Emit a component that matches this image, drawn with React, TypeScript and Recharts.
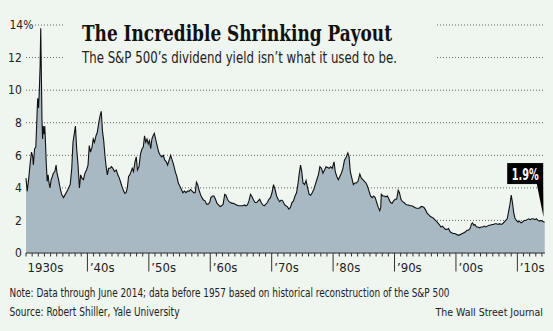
import { AreaChart, Area, XAxis, YAxis, CartesianGrid, ReferenceDot } from 'recharts'

const BG = '#eff5ef'
const NARROW = "'Liberation Sans Narrow', 'DejaVu Sans Condensed', 'Arial Narrow', sans-serif"
const SLAB = "'DejaVu Serif Condensed', 'DejaVu Serif', serif"

// one line per calendar year, same shape in both arrays
const years = [
  1930, 1930.2, 1930.45, 1930.7, 1930.9,
  1931.1, 1931.2, 1931.4, 1931.6, 1931.75, 1931.9,
  1932.05, 1932.15, 1932.3, 1932.4, 1932.5, 1932.6, 1932.7, 1932.8, 1932.95,
  1933.05, 1933.15, 1933.3, 1933.45, 1933.6, 1933.75, 1933.9,
  1934.1, 1934.3, 1934.45, 1934.7, 1934.9,
  1935.05, 1935.3, 1935.55, 1935.8,
  1936.1, 1936.4, 1936.7, 1936.95,
  1937.2, 1937.45, 1937.65, 1937.85,
  1938.05, 1938.25, 1938.45, 1938.7, 1938.9,
  1939.1, 1939.35, 1939.6, 1939.85,
  1940.1, 1940.3, 1940.5, 1940.75, 1940.95,
  1941.15, 1941.4, 1941.6, 1941.85,
  1942.05, 1942.25, 1942.45, 1942.65, 1942.85,
  1943.05, 1943.25, 1943.45, 1943.7, 1943.9,
  1944.15, 1944.4, 1944.7, 1944.95,
  1945.2, 1945.45, 1945.7, 1945.9,
  1946.1, 1946.3, 1946.5, 1946.7, 1946.9,
  1947.1, 1947.3, 1947.5, 1947.75, 1947.95,
  1948.15, 1948.4, 1948.65, 1948.9,
  1949.1, 1949.3, 1949.5, 1949.7, 1949.9,
  1950.1, 1950.3, 1950.5, 1950.7, 1950.9,
  1951.1, 1951.35, 1951.6, 1951.85,
  1952.1, 1952.35, 1952.6, 1952.85,
  1953.05, 1953.3, 1953.55, 1953.8,
  1954.05, 1954.3, 1954.55, 1954.8,
  1955.05, 1955.3, 1955.55, 1955.8,
  1956.05, 1956.3, 1956.55, 1956.8,
  1957.05, 1957.3, 1957.55, 1957.75, 1957.95,
  1958.15, 1958.4, 1958.65, 1958.9,
  1959.15, 1959.4, 1959.65, 1959.9,
  1960.1, 1960.35, 1960.6, 1960.85,
  1961.1, 1961.35, 1961.6, 1961.85,
  1962.1, 1962.35, 1962.55, 1962.8,
  1963.05, 1963.3, 1963.55, 1963.8,
  1964.05, 1964.3, 1964.55, 1964.8,
  1965.05, 1965.3, 1965.55, 1965.8,
  1966.05, 1966.3, 1966.55, 1966.8,
  1967.05, 1967.3, 1967.55, 1967.8,
  1968.05, 1968.3, 1968.55, 1968.8,
  1969.05, 1969.3, 1969.55, 1969.8,
  1970.05, 1970.3, 1970.55, 1970.8,
  1971.05, 1971.3, 1971.55, 1971.8,
  1972.05, 1972.3, 1972.55, 1972.8,
  1973.05, 1973.3, 1973.55, 1973.8,
  1974.05, 1974.3, 1974.5, 1974.7, 1974.9,
  1975.1, 1975.35, 1975.6, 1975.85,
  1976.1, 1976.35, 1976.6, 1976.85,
  1977.1, 1977.35, 1977.6, 1977.85,
  1978.1, 1978.35, 1978.6, 1978.85,
  1979.1, 1979.35, 1979.6, 1979.85,
  1980.15, 1980.35, 1980.6, 1980.85,
  1981.1, 1981.35, 1981.6, 1981.85,
  1982.15, 1982.4, 1982.6, 1982.8,
  1983.05, 1983.3, 1983.55, 1983.8,
  1984.05, 1984.35, 1984.6, 1984.85,
  1985.1, 1985.35, 1985.6, 1985.85,
  1986.1, 1986.35, 1986.6, 1986.85,
  1987.1, 1987.35, 1987.6, 1987.75, 1987.85,
  1988.1, 1988.35, 1988.6, 1988.85,
  1989.1, 1989.35, 1989.6, 1989.85,
  1990.1, 1990.35, 1990.6, 1990.8,
  1991.05, 1991.3, 1991.55, 1991.8,
  1992.05, 1992.3, 1992.55, 1992.8,
  1993.05, 1993.3, 1993.55, 1993.8,
  1994.05, 1994.3, 1994.55, 1994.8,
  1995.05, 1995.3, 1995.55, 1995.8,
  1996.05, 1996.3, 1996.55, 1996.8,
  1997.05, 1997.3, 1997.55, 1997.8,
  1998.05, 1998.3, 1998.55, 1998.8,
  1999.05, 1999.3, 1999.55, 1999.8,
  2000.05, 2000.3, 2000.55, 2000.8,
  2001.05, 2001.3, 2001.55, 2001.8,
  2002.05, 2002.3, 2002.55, 2002.7, 2002.9,
  2003.1, 2003.35, 2003.6, 2003.85,
  2004.1, 2004.35, 2004.6, 2004.85,
  2005.1, 2005.35, 2005.6, 2005.85,
  2006.1, 2006.35, 2006.6, 2006.85,
  2007.1, 2007.35, 2007.6, 2007.85,
  2008.1, 2008.35, 2008.6, 2008.8,
  2009.0, 2009.2, 2009.4, 2009.6, 2009.85,
  2010.1, 2010.35, 2010.6, 2010.85,
  2011.1, 2011.35, 2011.6, 2011.85,
  2012.1, 2012.35, 2012.6, 2012.85,
  2013.1, 2013.35, 2013.6, 2013.85,
  2014.1, 2014.3, 2014.45,
]

const yields = [
  4.6, 3.8, 4.6, 5.6, 6.2,
  5.9, 5.4, 6.4, 6.5, 8.0, 9.5,
  8.9, 9.8, 11.5, 13.8, 11.0, 8.2, 7.0, 7.8, 7.3,
  7.8, 7.0, 5.5, 4.4, 4.8, 4.3, 4.0,
  4.5, 4.7, 4.9, 5.0, 5.4,
  4.9, 4.5, 4.0, 3.6,
  3.4, 3.6, 3.8, 4.0,
  4.2, 5.2, 6.8, 7.3,
  7.8, 6.4, 5.5, 4.0, 4.8,
  4.6, 4.5, 4.9, 5.1,
  5.4, 6.6, 6.2, 6.5, 7.0,
  6.8, 7.2, 7.4, 8.0,
  8.4, 8.7, 7.5, 6.9, 6.0,
  5.3, 4.8, 5.2, 5.2, 5.3,
  5.2, 5.0, 5.1, 4.8,
  4.6, 4.3, 4.0, 3.8,
  3.65, 3.7, 4.0, 4.7, 4.8,
  5.0, 5.2, 5.0, 5.6, 5.9,
  5.1, 5.3, 6.1, 6.4,
  6.5, 7.2, 6.8, 7.0, 6.7,
  6.9, 6.4, 7.0, 7.2, 7.35,
  7.0, 6.6, 6.2, 6.0,
  5.9, 6.0, 5.7, 5.6,
  5.4, 5.7, 6.0, 5.7,
  5.4, 5.0, 4.7, 4.3,
  4.1, 3.9, 3.7, 3.8,
  3.7, 3.8, 3.8, 3.9,
  3.8, 3.7, 3.7, 4.35, 4.2,
  3.9, 3.6, 3.4, 3.25,
  3.2, 3.0, 3.0, 3.1,
  3.4, 3.5, 3.5, 3.3,
  3.05, 2.95, 2.85, 2.9,
  3.0, 3.6, 3.55, 3.3,
  3.15, 3.1, 3.05, 3.05,
  3.0, 2.95, 2.9, 2.9,
  2.9, 2.9, 2.95, 2.9,
  2.95, 3.2, 3.6, 3.45,
  3.25, 3.1, 3.1, 3.2,
  3.3, 3.1, 2.95, 2.9,
  3.0, 3.1, 3.3, 3.4,
  3.7, 4.2, 3.9, 3.5,
  3.3, 3.15, 3.25, 3.2,
  3.0, 2.9, 2.85, 2.7,
  2.8, 3.1, 3.2, 3.5,
  3.7, 4.3, 4.9, 5.4, 5.0,
  4.3, 4.2, 4.45, 4.0,
  3.6, 3.55, 3.7, 3.9,
  4.2, 4.5, 4.8, 5.3,
  5.2, 4.9, 5.1, 5.3,
  5.25, 5.2, 5.3, 5.2,
  5.6, 5.0, 4.7, 4.5,
  4.7, 4.9, 5.2, 5.7,
  5.9, 6.15, 5.9, 5.0,
  4.6, 4.2, 4.3, 4.3,
  4.4, 4.85, 4.6, 4.5,
  4.4, 4.3, 4.1, 3.8,
  3.5, 3.4, 3.5, 3.4,
  3.1, 2.8, 2.6, 2.8, 3.6,
  3.5, 3.5, 3.45, 3.5,
  3.3, 3.1, 3.05, 3.2,
  3.3, 3.3, 3.85, 3.7,
  3.3, 3.15, 3.1, 3.0,
  2.95, 2.95, 2.9, 2.9,
  2.85, 2.8, 2.75, 2.75,
  2.75, 2.85, 2.85, 2.8,
  2.65, 2.45, 2.35, 2.25,
  2.2, 2.15, 2.05, 1.95,
  1.85, 1.75, 1.6, 1.65,
  1.55, 1.45, 1.45, 1.5,
  1.3, 1.25, 1.2, 1.2,
  1.15, 1.1, 1.1, 1.15,
  1.2, 1.25, 1.3, 1.4,
  1.4, 1.5, 1.8, 1.85, 1.7,
  1.75, 1.6, 1.6, 1.55,
  1.6, 1.6, 1.65, 1.6,
  1.65, 1.7, 1.7, 1.75,
  1.75, 1.8, 1.8, 1.75,
  1.8, 1.75, 1.8, 1.9,
  2.0, 2.1, 2.6, 3.0,
  3.55, 3.1, 2.5, 2.15, 2.0,
  1.9, 1.95, 1.85, 1.9,
  2.0, 2.0, 2.05, 2.1,
  2.05, 2.1, 2.1, 2.05,
  2.1, 2.0, 1.95, 2.0,
  1.95, 1.9, 1.9,
]

const data = years.map((year, i) => ({ year, value: yields[i] }))

const yTicks = [0, 2, 4, 6, 8, 10, 12, 14]
const decades = [1930, 1940, 1950, 1960, 1970, 1980, 1990, 2000, 2010]
const decadeLabels = ['1930s', '’40s', '’50s', '’60s', '’70s', '’80s', '’90s', '’00s', '’10s']
const yearTicks = Array.from({ length: 85 }, (_, i) => 1930 + i)
const calloutLabel = '1.9%'

function YTick({ y, payload }: any) {
  const v = payload.value
  if (v === 14) {
    return (
      <g>
        <rect x={9} y={y - 7} width={25} height={14} fill={BG} />
        <text x={9.5} y={y} dy={4.3} fontSize={12} fontFamily={NARROW} fill="#222">14%</text>
      </g>
    )
  }
  return (
    <text x={21.8} y={y} dy={4.3} textAnchor="end" fontSize={12} fontFamily={NARROW} fill="#222">
      {v}
    </text>
  )
}

function XTick({ x, y, payload }: any) {
  const v = payload.value
  const idx = decades.indexOf(v)
  const major = idx > 0
  return (
    <g>
      <line x1={x} x2={x} y1={y} y2={y + (major ? 18.5 : 3.5)} stroke="#333" strokeWidth={1} />
      {idx >= 0 && (
        <text x={idx === 0 ? x + 1.5 : x + 2.5} y={y + 18.5} fontSize={13} fontFamily={NARROW} fill="#222">
          {decadeLabels[idx]}
        </text>
      )}
    </g>
  )
}

function Callout({ cx, cy }: any) {
  if (cx == null || cy == null) return null
  return (
    <g>
      <rect x={cx - 37.5} y={cy - 59} width={36} height={21} fill="#000" />
      <polygon points={`${cx - 8},${cy - 38.5} ${cx - 1.5},${cy - 38.5} ${cx - 1.2},${cy - 5}`} fill="#000" />
      <text
        x={cx - 19.5}
        y={cy - 42.5}
        textAnchor="middle"
        fontSize={15}
        fontWeight={700}
        fontFamily={NARROW}
        fill="#fff"
        textLength={27}
        lengthAdjust="spacingAndGlyphs"
      >
        {calloutLabel}
      </text>
    </g>
  )
}

export default function App() {
  const last = data[data.length - 1]
  return (
    <div style={{ position: 'absolute', left: 0, top: 0, width: 553, height: 331, background: BG }}>
      <AreaChart width={553} height={331} data={data} margin={{ top: 25, right: 8, bottom: 58, left: 0 }}>
        <CartesianGrid vertical={false} stroke="#666" strokeDasharray="1 2" />
        <XAxis
          dataKey="year"
          type="number"
          domain={[1930, 2014.5]}
          ticks={yearTicks}
          interval={0}
          height={20}
          tickSize={0}
          tickMargin={0}
          tickLine={false}
          axisLine={{ stroke: '#333', strokeWidth: 1 }}
          tick={(p: any) => <XTick {...p} />}
        />
        <YAxis
          type="number"
          domain={[0, 14]}
          ticks={yTicks}
          width={26}
          axisLine={false}
          tickLine={false}
          tickSize={0}
          tick={(p: any) => <YTick {...p} />}
        />
        <Area
          type="linear"
          dataKey="value"
          stroke="#111"
          strokeWidth={1.1}
          fill="#a8b9c3"
          fillOpacity={1}
          dot={false}
          activeDot={false}
          isAnimationActive={false}
        />
        <ReferenceDot
          x={last.year}
          y={last.value}
          r={0}
          ifOverflow="visible"
          shape={(p: any) => <Callout cx={p.cx} cy={p.cy} />}
        />
      </AreaChart>
      <svg width={553} height={331} style={{ position: 'absolute', left: 0, top: 0, pointerEvents: 'none' }}>
        <rect x={63} y={14} width={374} height={56} fill={BG} />
        <text x={82} y={40.5} fontFamily={SLAB} fontWeight={700} fontSize={21.5} fill="#111" textLength={310} lengthAdjust="spacingAndGlyphs">
          The Incredible Shrinking Payout
        </text>
        <text x={82} y={63} fontFamily={NARROW} fontSize={15.5} fill="#222" textLength={315} lengthAdjust="spacingAndGlyphs">
          The S&amp;P 500’s dividend yield isn’t what it used to be.
        </text>
        <text x={9.5} y={296.5} fontFamily={NARROW} fontSize={11.5} fill="#222" textLength={440} lengthAdjust="spacingAndGlyphs">
          Note: Data through June 2014; data before 1957 based on historical reconstruction of the S&amp;P 500
        </text>
        <text x={9.5} y={315.5} fontFamily={NARROW} fontSize={11.5} fill="#222" textLength={170} lengthAdjust="spacingAndGlyphs">
          Source: Robert Shiller, Yale University
        </text>
        <text x={543} y={315.5} textAnchor="end" fontFamily={NARROW} fontSize={10.5} fill="#222">
          The Wall Street Journal
        </text>
      </svg>
    </div>
  )
}
